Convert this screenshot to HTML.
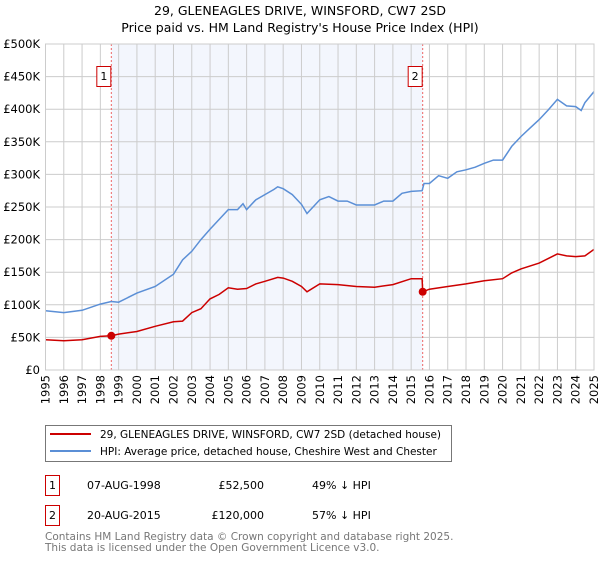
<!DOCTYPE html>
<html><head><meta charset="utf-8"><style>
body{margin:0;background:#fff;width:600px;height:560px;overflow:hidden;font-family:"DejaVu Sans","Liberation Sans",sans-serif}
text{font-family:"DejaVu Sans","Liberation Sans",sans-serif}
</style></head><body>
<svg id="chart" width="600" height="560" xmlns="http://www.w3.org/2000/svg">
<text x="300" y="15" text-anchor="middle" font-size="12.5">29, GLENEAGLES DRIVE, WINSFORD, CW7 2SD</text>
<text x="300" y="32" text-anchor="middle" font-size="12.5">Price paid vs. HM Land Registry's House Price Index (HPI)</text>
<g id="plot"></g>
<rect x="45.5" y="425.5" width="406" height="36" fill="#fff" stroke="#777"/>
<line x1="50" y1="434" x2="91" y2="434" stroke="#cc0000" stroke-width="2"/>
<text x="100" y="438" font-size="10.5">29, GLENEAGLES DRIVE, WINSFORD, CW7 2SD (detached house)</text>
<line x1="50" y1="451" x2="91" y2="451" stroke="#5b8fd6" stroke-width="2"/>
<text x="100" y="455" font-size="10.5">HPI: Average price, detached house, Cheshire West and Chester</text>
<rect x="45.5" y="475.5" width="14" height="20" fill="#fff" stroke="#cc0000"/>
<text x="52.5" y="489" text-anchor="middle" font-size="11">1</text>
<text x="87" y="489" font-size="11">07-AUG-1998</text>
<text x="264" y="489" text-anchor="end" font-size="11">£52,500</text>
<text x="312" y="489" font-size="11">49% ↓ HPI</text>
<rect x="45.5" y="505.5" width="14" height="20" fill="#fff" stroke="#cc0000"/>
<text x="52.5" y="519" text-anchor="middle" font-size="11">2</text>
<text x="87" y="519" font-size="11">20-AUG-2015</text>
<text x="264" y="519" text-anchor="end" font-size="11">£120,000</text>
<text x="312" y="519" font-size="11">57% ↓ HPI</text>
<text x="45" y="540" font-size="10.5" fill="#777">Contains HM Land Registry data © Crown copyright and database right 2025.</text>
<text x="45" y="551" font-size="10.5" fill="#777">This data is licensed under the Open Government Licence v3.0.</text>
</svg>
<script>
const hpiYears=[1995,1996,1997,1998,1998.6,1999,2000,2001,2002,2002.5,2003,2003.5,2004,2004.5,2005,2005.5,2005.8,2006,2006.5,2007,2007.5,2007.7,2008,2008.5,2009,2009.3,2010,2010.5,2011,2011.5,2012,2013,2013.5,2014,2014.5,2015,2015.6,2015.7,2016,2016.5,2017,2017.5,2018,2018.5,2019,2019.5,2020,2020.5,2021,2021.5,2022,2022.5,2023,2023.5,2024,2024.3,2024.5,2025];
const hpiValues=[91,88,91.5,101,105,104,118,128,147,169,182,200,216,231,246,246,255,246,261,269,277,281,278,269,254,240,261,266,259,259,253,253,259,259,271,274,275,286,286,298,294,304,307,311,317,322,322,343,358,371,384,399,415,405,404,398,410,427];
const propYears=[1995,1996,1997,1998,1998.6,1999,2000,2001,2002,2002.5,2003,2003.5,2004,2004.5,2005,2005.5,2006,2006.5,2007,2007.7,2008,2008.5,2009,2009.3,2010,2011,2012,2013,2014,2015,2015.6,2015.63,2016,2017,2018,2019,2020,2020.5,2021,2022,2023,2023.5,2024,2024.5,2025];
const propValues=[46.5,45,46.5,51.6,52.5,55,59,67,74,75,88,94,109,116,126,124,125,132,136,142,141,136,128,120,132,131,128,127,131,140,140,120,124,128,132,137,140,149,155,164,178,175,174,175,185];
const saleYears=[1998.6,2015.63];
const saleValues=[52.5,120];
const yTicks=[0,50,100,150,200,250,300,350,400,450,500];
const yTickLabels=["£0","£50K","£100K","£150K","£200K","£250K","£300K","£350K","£400K","£450K","£500K"];
const xTicks=[1995,1996,1997,1998,1999,2000,2001,2002,2003,2004,2005,2006,2007,2008,2009,2010,2011,2012,2013,2014,2015,2016,2017,2018,2019,2020,2021,2022,2023,2024,2025];

const X0=45.5,X1=594,Y0=370,Y1=44;
const xs=y=>X0+(y-1995)/30*(X1-X0);
const ys=v=>Y0-v/500*(Y0-Y1);
const NS="http://www.w3.org/2000/svg";
const g=document.getElementById('plot');
function mk(t,a){const e=document.createElementNS(NS,t);for(const k in a)e.setAttribute(k,a[k]);g.appendChild(e);return e;}

const shade=mk('rect',{x:xs(saleYears[0]),y:Y1,width:xs(saleYears[1])-xs(saleYears[0]),height:Y0-Y1,fill:'#f3f6fd'});


xTicks.forEach(t=>{
  const l=mk('line',{x1:xs(t),x2:xs(t),y1:Y1,y2:Y0,stroke:'#cccccc'});
  
  
  const tx=mk('text',{x:0,y:0,'font-size':'11.5','text-anchor':'end',transform:`translate(${xs(t)+4},${Y0+5}) rotate(-90)`});
  tx.textContent=t;
  
  
});
yTicks.forEach((t,i)=>{
  const l=mk('line',{x1:X0,x2:X1,y1:ys(t),y2:ys(t),stroke:'#cccccc'});
  
  
  const tx=mk('text',{x:40,y:ys(t)+4,'font-size':'11.5','text-anchor':'end'});
  tx.textContent=yTickLabels[i];
  
  
});
saleYears.forEach((s,i)=>{
  const l=mk('line',{x1:xs(s),x2:xs(s),y1:Y1,y2:Y0,stroke:'#ee6666','stroke-dasharray':'2,2'});
  
  
  const b=mk('rect',{x:xs(s)-14.5,y:66.5,width:14,height:20,fill:'#fff',stroke:'#cc0000'});
  
  
  const t=mk('text',{x:xs(s)-7.5,y:80,'font-size':'11','text-anchor':'middle'});
  t.textContent=String(i+1);
  
  
});
const pts=(a,b)=>a.map((y,i)=>xs(y).toFixed(1)+','+ys(b[i]).toFixed(1)).join(' ');
const hp=mk('polyline',{points:pts(hpiYears,hpiValues),fill:'none',stroke:'#5b8fd6','stroke-width':1.5});


const pp=mk('polyline',{points:pts(propYears,propValues),fill:'none',stroke:'#cc0000','stroke-width':1.5});


saleYears.forEach((s,i)=>{
  const c=mk('circle',{cx:xs(s),cy:ys(saleValues[i]),r:4,fill:'#cc0000'});
  
  
});
const fr=mk('rect',{x:X0,y:Y1,width:X1-X0,height:Y0-Y1,fill:'none',stroke:'#cccccc'});


</script>
</body></html>
